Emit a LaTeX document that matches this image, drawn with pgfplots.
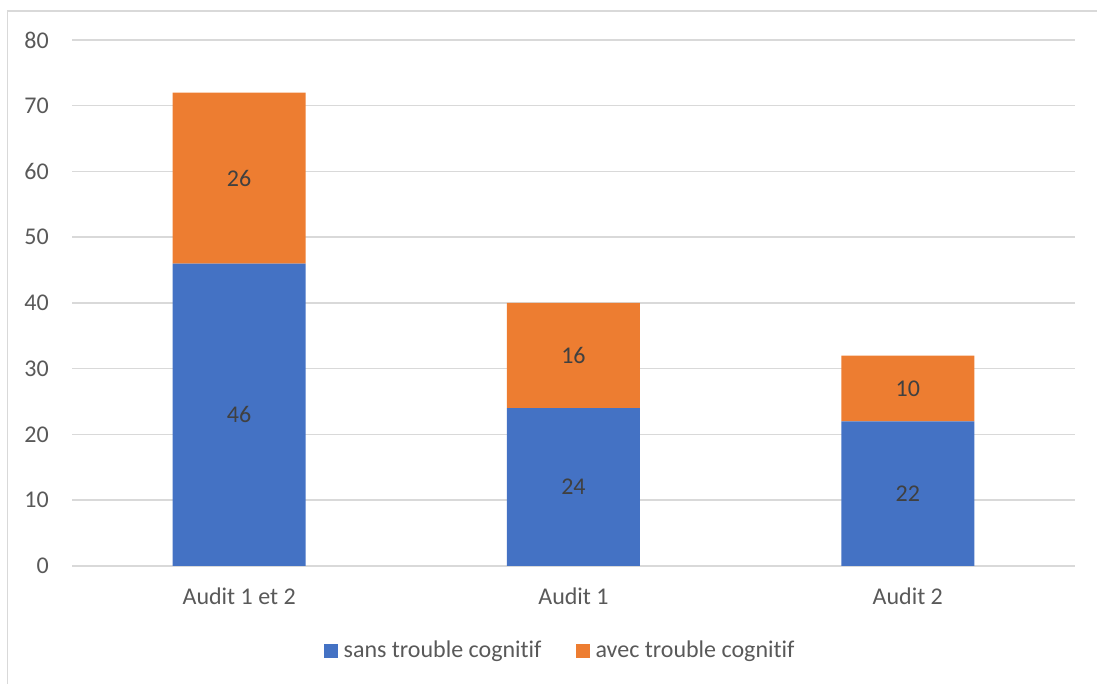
\documentclass[border=0pt]{standalone}
\usepackage{pgfplots}
\pgfplotsset{compat=1.18}
\usepackage{fontspec}
\setmainfont{Carlito}[Ligatures=NoCommon]
\definecolor{cblue}{HTML}{4472C4}
\definecolor{corange}{HTML}{ED7D31}
\definecolor{cgrid}{HTML}{D9D9D9}
\definecolor{ctext}{HTML}{595959}
\definecolor{clab}{HTML}{404040}
\begin{document}
\fontsize{24}{29}\selectfont
\begin{tikzpicture}
\draw[cgrid,line width=1.2pt] (7.5pt,0pt) -- (7.5pt,673pt) -- (1097pt,673pt);
\begin{axis}[
  at={(72pt,118pt)}, anchor=south west,
  scale only axis, width=1003pt, height=526pt,
  ybar stacked, bar width=133pt,
  xmin=-0.5, xmax=2.5, ymin=0, ymax=80,
  xtick={0,1,2}, xticklabels={Audit 1 et 2, Audit 1, Audit 2},
  ytick={0,10,...,80},
  ymajorgrids, grid style={cgrid,line width=1.5pt},
  axis line style={draw=none},
  axis x line*=bottom,
  x axis line style={cgrid,line width=1.5pt},
  major tick length=0pt,
  tick label style={font=\fontsize{24}{29}\selectfont, text=ctext},
  /pgf/number format/assume math mode=true,
  xticklabel style={yshift=-14pt},
  yticklabel style={xshift=-15pt},
  legend style={at={(0.4866,-0.1616)}, anchor=center, draw=none, fill=none,
    legend columns=2, font=\fontsize{24}{29}\selectfont, text=ctext,
    /tikz/every even column/.append style={column sep=32pt}},
  legend image code/.code={\fill[#1] (0pt,-7pt) rectangle (14pt,7pt); \path (18pt,0pt);},
  legend cell align=left,
]
\addplot[fill=cblue, draw=none] coordinates {(0,46) (1,24) (2,22)};
\addplot[fill=corange, draw=none] coordinates {(0,26) (1,16) (2,10)};
\legend{sans trouble cognitif, avec trouble cognitif}
\coordinate (l1) at (axis cs:0,23);
\coordinate (l2) at (axis cs:0,59);
\coordinate (l3) at (axis cs:1,12);
\coordinate (l4) at (axis cs:1,32);
\coordinate (l5) at (axis cs:2,11);
\coordinate (l6) at (axis cs:2,27);
\end{axis}
\begin{scope}[every node/.style={text=clab, font=\fontsize{24}{29}\selectfont}]
\node at (l1) {46};
\node at (l2) {26};
\node at (l3) {24};
\node at (l4) {16};
\node at (l5) {22};
\node at (l6) {10};
\end{scope}
\pgfresetboundingbox
\path[use as bounding box] (0pt,0pt) rectangle (1097pt,684pt);
\end{tikzpicture}
\end{document}
